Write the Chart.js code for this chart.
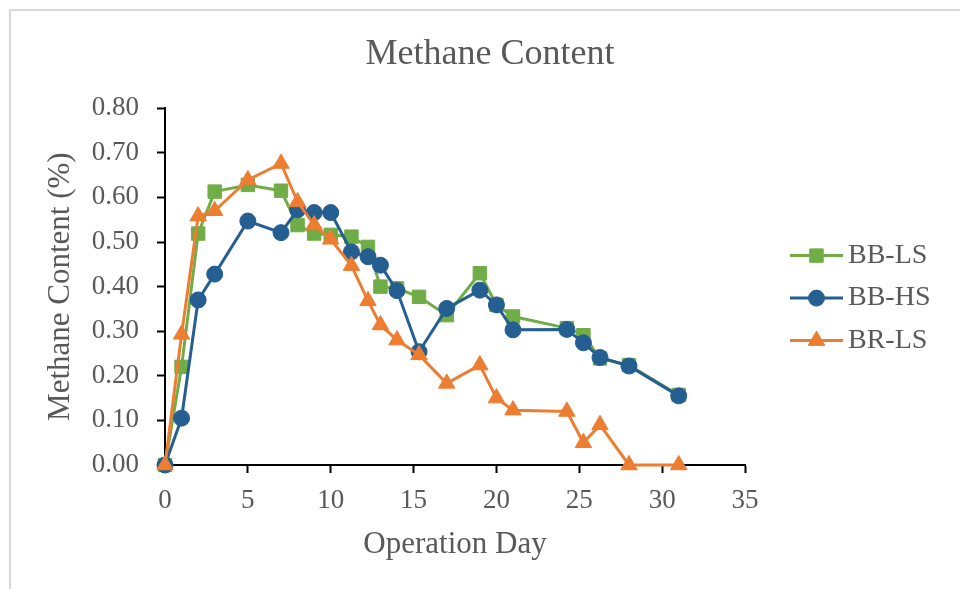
<!DOCTYPE html>
<html>
<head>
<meta charset="utf-8">
<title>Methane Content</title>
<script src="https://cdn.jsdelivr.net/npm/chart.js@4.4.0/dist/chart.umd.min.js"></script>
<style>
    html, body { margin: 0; padding: 0; background: #fff; overflow: hidden; width: 960px; height: 589px; }
    #frame { position: absolute; left: 9px; top: 9px; width: 1000px; height: 700px;
             border-left: 2px solid #d9d9d9; border-top: 2px solid #d9d9d9; }
    #chart { position: absolute; left: 0; top: 0; }
</style>
</head>
<body>
<div id="frame"></div>
<canvas id="chart" width="960" height="589"></canvas>
<script>
// Operation days (shared by all three series)
const days = [0, 1, 2, 3, 5, 7, 8, 9, 10, 11.25, 12.25, 13, 14, 15.33, 17, 19, 20, 21, 24.25, 25.25, 26.25, 28, 31];

// Methane content readings
const bbLS = [0, 0.220, 0.519, 0.613, 0.628, 0.615, 0.538, 0.519, 0.516, 0.512, 0.489, 0.400, 0.396, 0.377, 0.336, 0.430, 0.359, 0.333, 0.307, 0.291, 0.239, 0.224, 0.157];
const bbHS = [0, 0.105, 0.370, 0.428, 0.547, 0.521, 0.572, 0.566, 0.566, 0.478, 0.467, 0.448, 0.391, 0.254, 0.351, 0.392, 0.359, 0.303, 0.304, 0.274, 0.241, 0.222, 0.155];
const brLS = [0, 0.293, 0.558, 0.570, 0.639, 0.676, 0.590, 0.538, 0.506, 0.447, 0.368, 0.314, 0.280, 0.247, 0.183, 0.224, 0.150, 0.123, 0.120, 0.050, 0.090, 0, 0];

const seriesNames = ['BB-LS', 'BB-HS', 'BR-LS'];
const seriesValues = [bbLS, bbHS, brLS];

const colors = ['#70AD47', '#255E91', '#ED7D31'];
const shapes = ['rect', 'circle', 'triangle'];
const radii = [9.5, 8, 9.5];

const TEXT = '#595959';
const SERIF = '"Liberation Serif", "Times New Roman", serif';

Chart.defaults.font.family = SERIF;
Chart.defaults.color = TEXT;

// Draw one marker shape (used for the legend)
function drawMarker(ctx, shape, r, x, y) {
    ctx.beginPath();
    if (shape === 'rect') {
        const s = r * Math.SQRT1_2;
        ctx.rect(x - s, y - s, 2 * s, 2 * s);
    } else if (shape === 'circle') {
        ctx.arc(x, y, r, 0, Math.PI * 2);
    } else {
        ctx.moveTo(x, y - r);
        ctx.lineTo(x + r * Math.cos(Math.PI / 6), y + r / 2);
        ctx.lineTo(x - r * Math.cos(Math.PI / 6), y + r / 2);
        ctx.closePath();
    }
    ctx.fill();
    ctx.stroke();
}

// Legend on the right: line + marker + label, like the spreadsheet one
const lineLegend = {
    id: 'lineLegend',
    afterDraw(chart) {
        const ctx = chart.ctx;
        const area = chart.chartArea;
        const x0 = area.right + 45;
        const midY = (area.top + area.bottom) / 2 + 11.5;
        const step = 42.5;
        ctx.save();
        chart.data.datasets.forEach((ds, i) => {
            const y = midY + (i - 1) * step;
            ctx.strokeStyle = ds.borderColor;
            ctx.lineWidth = 3;
            ctx.beginPath();
            ctx.moveTo(x0, y);
            ctx.lineTo(x0 + 53, y);
            ctx.stroke();
            ctx.fillStyle = ds.pointBackgroundColor;
            ctx.lineWidth = 1;
            drawMarker(ctx, ds.pointStyle, ds.pointRadius, x0 + 26.5, y);
            ctx.fillStyle = TEXT;
            ctx.font = '28px ' + SERIF;
            ctx.textAlign = 'left';
            ctx.textBaseline = 'middle';
            ctx.fillText(ds.label, x0 + 58, y);
        });
        ctx.restore();
    }
};

const datasets = seriesNames.map((name, i) => ({
    label: name,
    data: days.map((d, j) => ({ x: d, y: seriesValues[i][j] })),
    borderColor: colors[i],
    backgroundColor: colors[i],
    pointBackgroundColor: colors[i],
    pointBorderColor: colors[i],
    pointBorderWidth: 1,
    pointStyle: shapes[i],
    pointRadius: radii[i],
    borderWidth: 3,
    tension: 0,
    fill: false,
    clip: false,
    order: 3 - i
}));

new Chart(document.getElementById('chart'), {
    type: 'line',
    data: { datasets },
    plugins: [lineLegend],
    options: {
        responsive: false,
        animation: false,
        layout: { padding: { left: 20, right: 0, top: 0, bottom: 0 } },
        plugins: {
            legend: { display: false },
            tooltip: { enabled: false },
            title: {
                display: true,
                text: 'Methane Content',
                color: TEXT,
                font: { size: 36, weight: 'normal' },
                padding: { top: 33, bottom: 32 }
            }
        },
        scales: {
            x: {
                type: 'linear',
                min: 0,
                max: 35,
                ticks: { stepSize: 5, color: TEXT, font: { size: 27 }, padding: 12, maxRotation: 0 },
                grid: { drawOnChartArea: false, drawTicks: true, tickLength: 8, tickColor: '#000', tickWidth: 2 },
                border: { color: '#000', width: 2 },
                title: {
                    display: true,
                    text: 'Operation Day',
                    color: TEXT,
                    font: { size: 31, weight: 'normal' },
                    padding: { top: 0, bottom: 26 }
                },
                afterFit: s => { s.height = 124; }
            },
            y: {
                min: 0,
                max: 0.8,
                ticks: { stepSize: 0.1, color: TEXT, font: { size: 27 }, padding: 18,
                         callback: v => v.toFixed(2) },
                grid: { drawOnChartArea: false, drawTicks: true, tickLength: 8, tickColor: '#000', tickWidth: 2 },
                border: { color: '#000', width: 2 },
                title: {
                    display: true,
                    text: 'Methane Content (%)',
                    color: TEXT,
                    font: { size: 31, weight: 'normal' },
                    padding: { top: 22, bottom: 0 }
                },
                afterFit: s => { s.width = 145; }
            },
            // empty space on the right for the legend
            legendSpace: {
                type: 'linear',
                position: 'right',
                display: true,
                grid: { display: false },
                border: { display: false },
                ticks: { display: false },
                afterFit: s => { s.width = 215; }
            }
        }
    }
});
</script>
</body>
</html>
